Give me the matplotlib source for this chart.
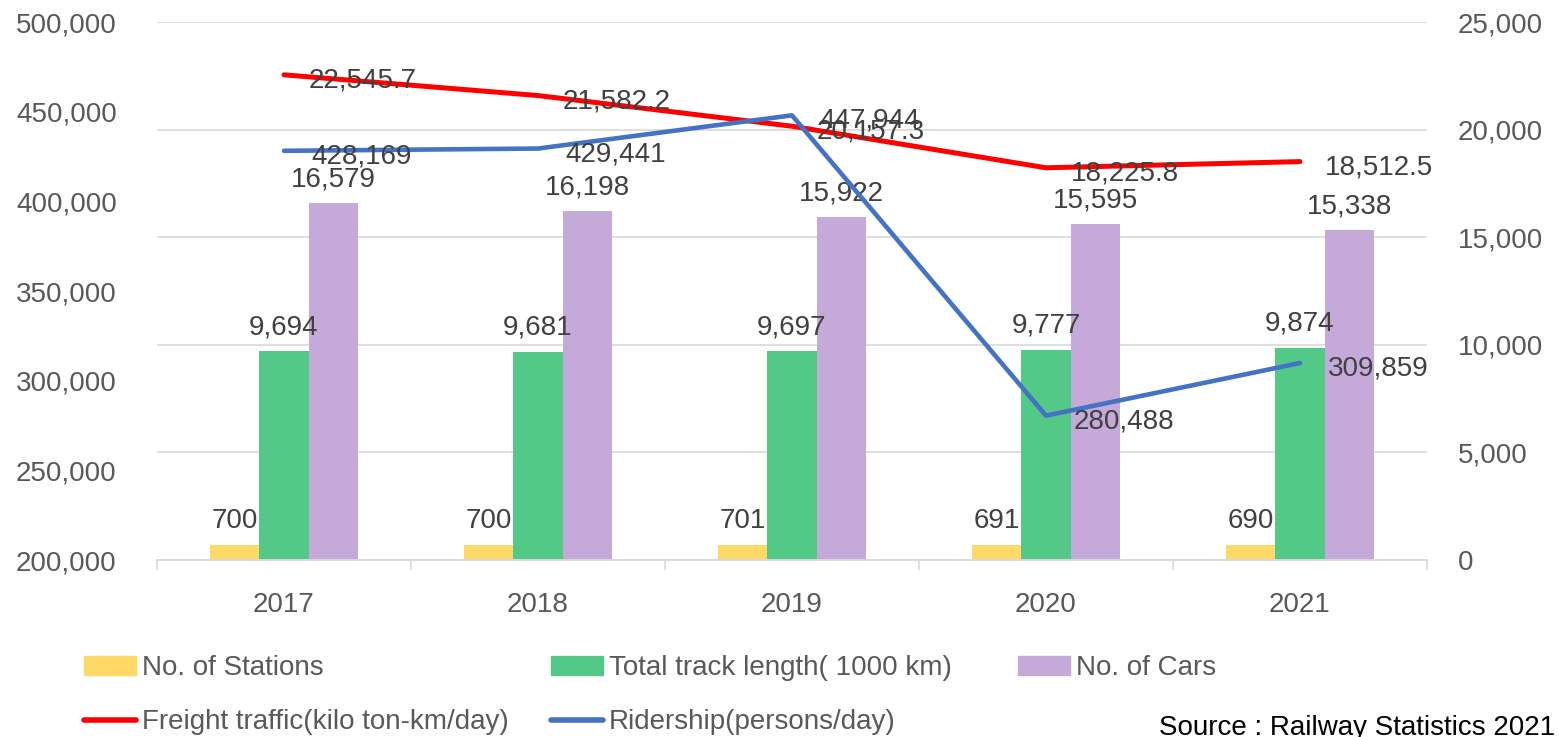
import matplotlib
matplotlib.use('Agg')
import matplotlib.pyplot as plt
import numpy as np
from matplotlib.patches import Patch
from matplotlib.lines import Line2D

# Data
years = ['2017', '2018', '2019', '2020', '2021']
stations = [700, 700, 701, 691, 690]
track_length = [9694, 9681, 9697, 9777, 9874]
cars = [16579, 16198, 15922, 15595, 15338]
freight = [22545.7, 21582.2, 20157.3, 18225.8, 18512.5]
ridership = [428169, 429441, 447944, 280488, 309859]

c_station = '#FFD966'
c_track = '#53C987'
c_cars = '#C5A9D8'
c_freight = '#FF0000'
c_rider = '#4472C4'
tick_col = '#595959'
label_col = '#404040'
grid_col = '#D9D9D9'

plt.rcParams['font.family'] = ['Liberation Sans', 'DejaVu Sans']
FS = 20

W, H = 1559, 737
fig = plt.figure(figsize=(W / 100, H / 100), dpi=100)
ax = fig.add_axes([157 / W, 1 - 560 / H, (1427 - 157) / W, (560 - 22) / H])
ax2 = ax.twinx()

x = np.arange(len(years))
w = 0.193

# bars + freight on the right-hand scale
b1 = ax.bar(x - w, stations, w, color=c_station, zorder=2)
b2 = ax.bar(x, track_length, w, color=c_track, zorder=2)
b3 = ax.bar(x + w, cars, w, color=c_cars, zorder=2)
ax.plot(x, freight, color=c_freight, lw=3.6, solid_capstyle='round', zorder=3)

# ridership on the left-hand scale
ax2.plot(x, ridership, color=c_rider, lw=3.3, solid_capstyle='round', zorder=3)

# data labels
for bars, vals in [(b1, stations), (b2, track_length), (b3, cars)]:
    for r, v in zip(bars, vals):
        ax.annotate(f'{v:,}', (r.get_x() + r.get_width() / 2, v),
                    xytext=(0, 12), textcoords='offset points',
                    ha='center', va='baseline', fontsize=FS, color=label_col, zorder=4)
for xi, v in zip(x, freight):
    ax.annotate(f'{v:,.1f}', (xi, v), xytext=(18, -9), textcoords='offset points',
                ha='left', va='baseline', fontsize=FS, color=label_col, zorder=4)
for xi, v in zip(x, ridership):
    ax2.annotate(f'{v:,}', (xi, v), xytext=(20, -9), textcoords='offset points',
                 ha='left', va='baseline', fontsize=FS, color=label_col, zorder=4)

# axes
ax.set_xlim(-0.5, len(years) - 0.5)
ax.set_ylim(0, 25000)
ax.set_yticks(np.arange(0, 25001, 5000))
ax.yaxis.set_ticks_position('right')
ax.yaxis.set_major_formatter(matplotlib.ticker.FuncFormatter(lambda v, p: f'{int(v):,}'))
ax.tick_params(axis='y', length=0, pad=22, labelsize=FS, labelcolor=tick_col)
ax.grid(axis='y', color=grid_col, lw=1.2, zorder=0)
ax.set_axisbelow(True)

ax2.set_ylim(200000, 500000)
ax2.set_yticks(np.arange(200000, 500001, 50000))
ax2.yaxis.set_ticks_position('left')
ax2.yaxis.set_label_position('left')
ax2.yaxis.set_major_formatter(matplotlib.ticker.FuncFormatter(lambda v, p: f'{int(v):,}'))
ax2.tick_params(axis='y', length=0, pad=29, labelsize=FS, labelcolor=tick_col)

ax.set_xticks(x)
ax.set_xticklabels(years)
ax.set_xticks(np.arange(-0.5, len(years), 1), minor=True)
ax.tick_params(axis='x', which='major', length=0, pad=23, labelsize=FS, labelcolor=tick_col)
ax.tick_params(axis='x', which='minor', length=7, width=1.2, color=grid_col)

for a in (ax, ax2):
    for s in ('top', 'left', 'right'):
        a.spines[s].set_visible(False)
    a.spines['bottom'].set_color(grid_col)
    a.spines['bottom'].set_linewidth(1.2)

# legend laid out in three equal columns like the original
leg_kw = dict(loc='upper left', bbox_transform=fig.transFigure, frameon=False,
              borderpad=0, borderaxespad=0, handlelength=1.87, handletextpad=0.22,
              labelspacing=1.02, fontsize=FS, labelcolor=tick_col)
top = 1 - 655 / H
fig.legend(handles=[Patch(color=c_station),
                    Line2D([], [], color=c_freight, lw=4, solid_capstyle='round')],
           labels=['No. of Stations', 'Freight traffic(kilo ton-km/day)'],
           bbox_to_anchor=(84 / W, top), **leg_kw)
fig.legend(handles=[Patch(color=c_track),
                    Line2D([], [], color=c_rider, lw=4, solid_capstyle='round')],
           labels=['Total track length( 1000 km)', 'Ridership(persons/day)'],
           bbox_to_anchor=(551 / W, top), **leg_kw)
fig.legend(handles=[Patch(color=c_cars)], labels=['No. of Cars'],
           bbox_to_anchor=(1018 / W, top), **leg_kw)

fig.text(1555 / W, 2 / H, 'Source : Railway Statistics 2021', ha='right', va='baseline',
         fontsize=FS, color='black')

fig.savefig('out.png', dpi=100)
